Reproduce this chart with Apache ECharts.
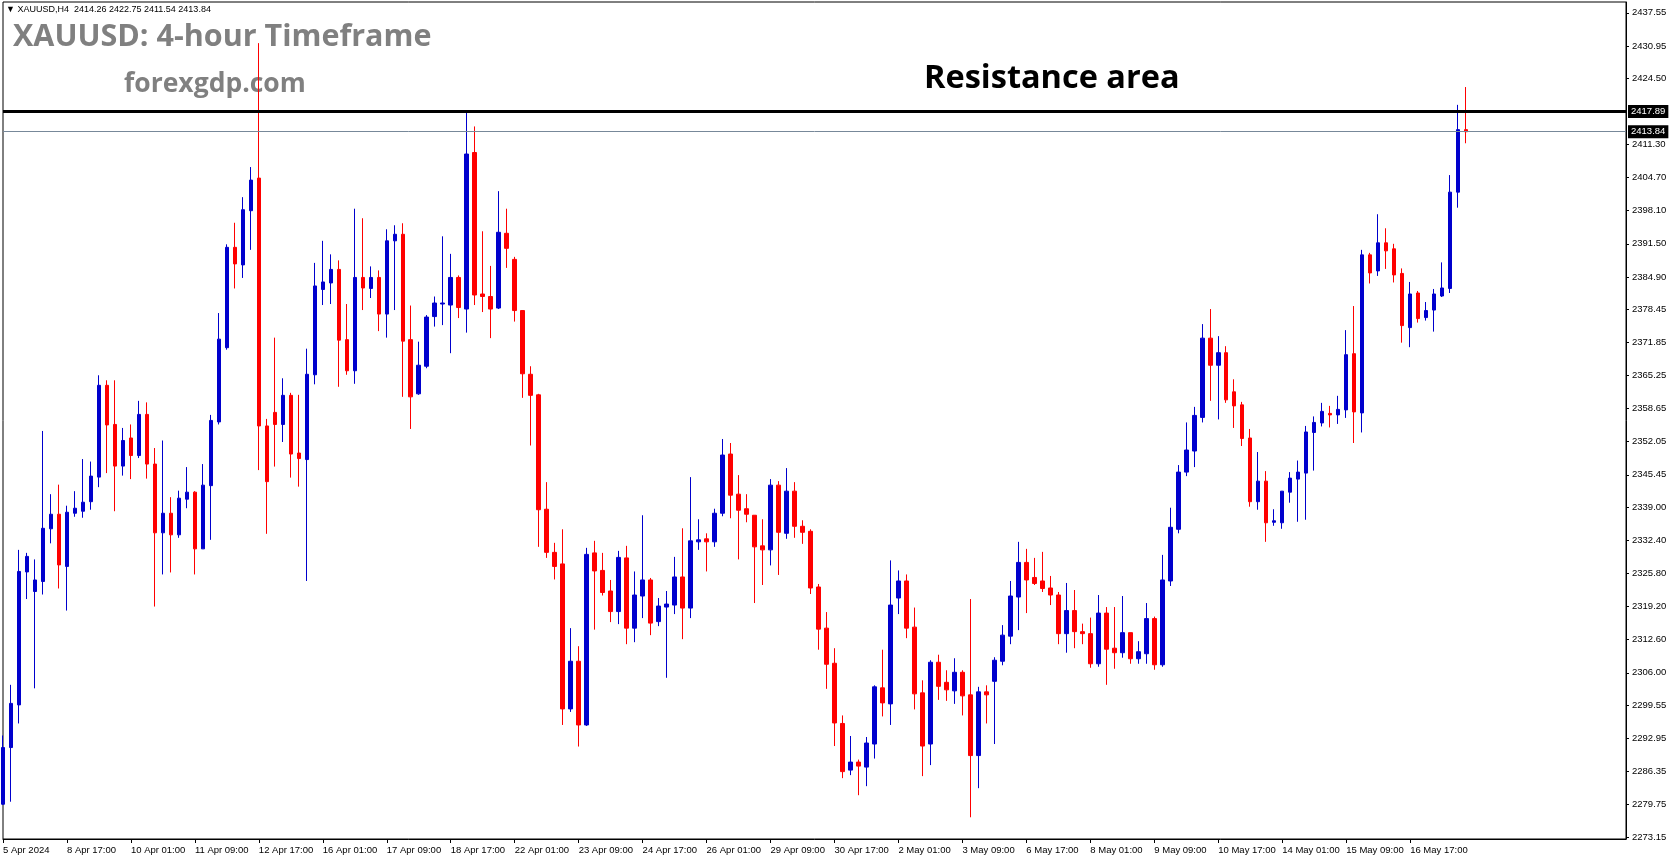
<!DOCTYPE html>
<html>
<head>
<meta charset="utf-8">
<title>XAUUSD H4</title>
<script src="https://cdn.jsdelivr.net/npm/echarts@6/dist/echarts.min.js"></script>
<style>html,body{margin:0;padding:0;background:#fff;}</style>
</head>
<body>
<div id="main" style="width:1673px;height:861px;"></div>
<script>
// trading days on the chart, 5 Apr only has the bars from 09:00
const days = ['5 Apr', '8 Apr', '9 Apr', '10 Apr', '11 Apr', '12 Apr',
  '15 Apr', '16 Apr', '17 Apr', '18 Apr', '19 Apr',
  '22 Apr', '23 Apr', '24 Apr', '25 Apr', '26 Apr',
  '29 Apr', '30 Apr', '1 May', '2 May', '3 May',
  '6 May', '7 May', '8 May', '9 May', '10 May',
  '13 May', '14 May', '15 May', '16 May', '17 May'];
const hours = ['01:00', '05:00', '09:00', '13:00', '17:00', '21:00'];

// H4 bars
const opens = [
  2279.8, 2291.1, 2299.6, 2326.1, 2322.2, 2324.2, 2334.7, 2337.6, 2327.2, 2337.8,
  2338.2, 2340.1, 2345.0, 2363.3, 2355.5, 2347.2, 2352.8, 2349.3, 2357.5, 2347.6,
  2333.9, 2337.8, 2333.5, 2340.6, 2342.0, 2330.7, 2343.3, 2356.0, 2370.8, 2390.8,
  2387.3, 2398.1, 2404.6, 2355.2, 2357.9, 2355.5, 2361.3, 2349.8, 2348.5, 2365.4,
  2382.4, 2383.7, 2386.4, 2372.4, 2366.2, 2384.8, 2382.6, 2384.8, 2377.5, 2392.1,
  2393.4, 2372.4, 2361.6, 2367.1, 2377.0, 2379.5, 2379.3, 2384.8, 2378.5, 2409.7,
  2381.5, 2381.0, 2378.7, 2393.6, 2388.4, 2378.2, 2365.5, 2361.4, 2338.6, 2330.0,
  2327.7, 2298.8, 2308.3, 2295.6, 2329.9, 2326.4, 2322.3, 2318.2, 2328.9, 2314.9,
  2321.3, 2324.5, 2316.2, 2319.1, 2319.5, 2325.1, 2318.9, 2332.1, 2332.7, 2332.1,
  2337.8, 2349.6, 2341.6, 2338.7, 2337.4, 2331.3, 2330.5, 2343.4, 2333.8, 2342.2,
  2335.2, 2334.2, 2323.1, 2314.9, 2307.9, 2295.9, 2286.6, 2288.2, 2287.2, 2291.8,
  2303.0, 2299.8, 2320.9, 2324.3, 2315.1, 2302.0, 2291.8, 2308.1, 2304.1, 2302.4,
  2306.1, 2301.6, 2289.5, 2302.2, 2304.3, 2308.3, 2313.3, 2321.1, 2328.0, 2325.0,
  2324.3, 2322.9, 2321.5, 2313.8, 2318.4, 2314.2, 2313.8, 2307.8, 2317.9, 2310.9,
  2310.0, 2314.0, 2308.8, 2309.8, 2316.8, 2307.6, 2324.3, 2334.6, 2346.0, 2350.2,
  2356.9, 2372.7, 2367.3, 2369.8, 2362.0, 2359.4, 2352.8, 2340.1, 2344.2, 2336.0,
  2335.9, 2342.0, 2344.6, 2345.8, 2353.9, 2355.8, 2357.7, 2357.4, 2358.4, 2369.6,
  2357.8, 2389.3, 2386.1, 2391.7, 2390.5, 2385.6, 2374.8, 2381.7, 2376.8, 2378.3,
  2381.1, 2382.6, 2401.8, 2414.26];
const closes = [
  2291.1, 2299.9, 2326.2, 2329.2, 2324.5, 2334.8, 2337.6, 2327.5, 2338.0, 2338.8,
  2340.0, 2345.2, 2363.3, 2355.4, 2347.2, 2352.3, 2349.3, 2357.5, 2347.6, 2333.9,
  2337.8, 2333.5, 2340.8, 2342.0, 2330.7, 2343.4, 2356.3, 2372.5, 2390.8, 2387.5,
  2398.3, 2404.2, 2355.2, 2344.1, 2355.5, 2361.3, 2349.6, 2348.7, 2365.5, 2383.1,
  2383.9, 2386.4, 2372.3, 2366.2, 2384.8, 2382.7, 2384.8, 2377.5, 2392.1, 2393.4,
  2372.1, 2361.0, 2367.3, 2376.9, 2379.7, 2379.7, 2384.8, 2378.8, 2409.4, 2381.3,
  2381.0, 2378.5, 2393.8, 2390.6, 2378.2, 2365.6, 2361.3, 2338.5, 2330.0, 2327.2,
  2298.8, 2308.3, 2295.6, 2329.6, 2326.3, 2322.0, 2318.2, 2329.0, 2314.9, 2321.5,
  2324.5, 2315.9, 2319.3, 2319.7, 2325.1, 2318.9, 2332.3, 2332.5, 2332.1, 2337.8,
  2349.4, 2341.4, 2338.4, 2337.6, 2331.1, 2330.5, 2343.4, 2334.0, 2342.2, 2335.2,
  2334.0, 2322.9, 2314.7, 2307.7, 2296.0, 2286.3, 2288.2, 2287.4, 2292.0, 2303.2,
  2300.0, 2319.5, 2324.3, 2314.9, 2301.8, 2291.4, 2308.1, 2303.3, 2302.6, 2306.1,
  2301.4, 2289.5, 2302.2, 2301.6, 2308.5, 2313.5, 2321.3, 2328.0, 2324.5, 2323.8,
  2322.8, 2321.5, 2313.8, 2318.4, 2314.2, 2313.8, 2307.8, 2317.9, 2310.7, 2310.0,
  2314.0, 2308.8, 2310.2, 2316.8, 2307.6, 2324.5, 2335.0, 2346.0, 2350.4, 2357.3,
  2372.7, 2367.3, 2369.8, 2360.4, 2359.2, 2352.7, 2340.1, 2344.2, 2335.9, 2336.3,
  2342.2, 2344.8, 2346.0, 2354.0, 2355.9, 2358.1, 2357.4, 2358.5, 2369.4, 2358.0,
  2389.3, 2385.7, 2391.7, 2390.1, 2385.3, 2375.2, 2381.5, 2376.6, 2378.2, 2381.5,
  2382.7, 2401.8, 2414.26, 2413.84];
const lows = [
  2279.7, 2280.3, 2295.9, 2320.7, 2302.9, 2321.6, 2331.8, 2322.8, 2318.4, 2337.1,
  2336.9, 2338.5, 2343.0, 2345.8, 2338.2, 2345.3, 2344.6, 2348.8, 2344.7, 2319.2,
  2325.6, 2326.0, 2332.9, 2338.8, 2325.6, 2330.7, 2332.5, 2355.5, 2370.4, 2382.6,
  2384.7, 2390.3, 2346.4, 2333.7, 2347.1, 2352.0, 2344.9, 2343.1, 2324.3, 2363.5,
  2379.3, 2379.5, 2363.0, 2365.4, 2363.6, 2378.3, 2380.7, 2374.1, 2372.8, 2378.3,
  2361.0, 2354.6, 2361.4, 2366.7, 2375.0, 2375.3, 2369.7, 2376.7, 2373.8, 2379.3,
  2377.9, 2372.7, 2378.5, 2386.7, 2376.0, 2360.8, 2351.3, 2331.1, 2328.9, 2324.6,
  2295.6, 2298.2, 2291.3, 2295.4, 2314.6, 2321.4, 2316.1, 2315.7, 2311.7, 2312.1,
  2316.9, 2313.5, 2315.3, 2305.0, 2317.7, 2312.7, 2316.9, 2330.5, 2326.2, 2331.1,
  2337.2, 2336.8, 2328.6, 2336.0, 2319.9, 2323.5, 2327.4, 2325.5, 2332.7, 2332.9,
  2331.7, 2321.7, 2310.6, 2302.8, 2291.4, 2285.0, 2285.6, 2281.6, 2283.4, 2288.9,
  2297.3, 2295.6, 2317.7, 2312.9, 2298.7, 2285.4, 2287.6, 2300.6, 2300.4, 2299.8,
  2297.5, 2277.2, 2283.0, 2295.9, 2291.8, 2307.5, 2311.7, 2314.5, 2317.9, 2323.5,
  2322.1, 2319.5, 2311.7, 2310.0, 2310.9, 2311.7, 2307.0, 2307.2, 2303.6, 2306.8,
  2309.0, 2307.8, 2307.8, 2307.8, 2306.6, 2307.2, 2323.3, 2333.8, 2345.2, 2347.0,
  2355.9, 2360.2, 2356.5, 2359.8, 2354.8, 2351.2, 2339.1, 2338.5, 2332.1, 2335.3,
  2334.7, 2339.9, 2336.1, 2336.5, 2346.3, 2355.1, 2354.9, 2355.6, 2356.8, 2351.8,
  2353.9, 2383.6, 2385.1, 2386.5, 2383.8, 2371.8, 2370.9, 2375.8, 2376.2, 2374.0,
  2380.9, 2381.7, 2398.7, 2411.54];
const highs = [
  2293.5, 2303.6, 2330.5, 2329.9, 2328.6, 2354.2, 2341.6, 2343.5, 2339.3, 2342.2,
  2348.6, 2348.1, 2365.3, 2364.3, 2364.3, 2354.8, 2355.5, 2360.2, 2359.9, 2350.8,
  2352.3, 2341.0, 2342.3, 2347.0, 2342.2, 2347.6, 2357.4, 2377.7, 2391.4, 2395.7,
  2400.8, 2406.8, 2431.5, 2356.6, 2372.8, 2364.7, 2361.8, 2361.4, 2370.6, 2387.7,
  2392.1, 2389.4, 2388.2, 2379.5, 2398.5, 2396.6, 2387.0, 2386.2, 2394.4, 2395.2,
  2395.6, 2379.2, 2372.0, 2377.3, 2381.0, 2393.0, 2389.5, 2385.2, 2417.9, 2414.9,
  2394.0, 2387.1, 2402.0, 2398.5, 2388.9, 2378.3, 2367.1, 2361.6, 2344.0, 2331.9,
  2334.6, 2314.9, 2311.3, 2330.9, 2332.3, 2329.9, 2324.5, 2330.3, 2331.3, 2326.2,
  2337.4, 2324.9, 2320.9, 2322.3, 2329.1, 2334.8, 2345.0, 2336.6, 2333.8, 2338.7,
  2352.6, 2351.8, 2345.4, 2341.6, 2337.4, 2336.6, 2344.6, 2344.2, 2346.8, 2344.0,
  2336.4, 2334.6, 2323.7, 2318.1, 2310.9, 2297.5, 2293.4, 2288.7, 2293.2, 2303.5,
  2310.6, 2328.4, 2326.4, 2325.6, 2319.0, 2304.5, 2308.5, 2309.6, 2306.5, 2308.9,
  2306.5, 2320.7, 2303.2, 2303.5, 2309.1, 2315.5, 2324.3, 2332.1, 2330.7, 2328.9,
  2330.1, 2325.3, 2322.1, 2323.9, 2322.5, 2315.8, 2317.0, 2321.5, 2319.1, 2319.1,
  2321.3, 2314.0, 2312.3, 2319.9, 2317.2, 2329.5, 2338.9, 2347.4, 2355.9, 2359.0,
  2375.5, 2378.5, 2373.1, 2371.1, 2364.5, 2360.0, 2354.6, 2350.0, 2346.2, 2338.6,
  2342.2, 2346.0, 2348.3, 2355.2, 2357.1, 2359.8, 2359.2, 2361.2, 2374.3, 2379.1,
  2390.3, 2389.7, 2397.4, 2394.6, 2391.5, 2386.6, 2383.9, 2382.1, 2379.9, 2382.5,
  2387.8, 2405.2, 2419.2, 2422.75];

// price scale labels on the right
const priceTicks = ['2273.15', '2279.75', '2286.35', '2292.95', '2299.55', '2306.00',
  '2312.60', '2319.20', '2325.80', '2332.40', '2339.00', '2345.45', '2352.05',
  '2358.65', '2365.25', '2371.85', '2378.45', '2384.90', '2391.50', '2398.10',
  '2404.70', '2411.30', '2424.50', '2430.95', '2437.55'];

const resistance = 2417.89;
const lastPrice = 2413.84;
const totalSlots = 204; // bars plus empty room on the right, like MT4 chart shift

const categories = [];
days.forEach(d => {
  hours.forEach(h => {
    if (d === '5 Apr' && h < '09:00') return;
    categories.push(d + ' ' + h);
  });
});
while (categories.length < totalSlots) categories.push('');

const ohlc = opens.map((o, i) => [o, closes[i], lows[i], highs[i]]);

const axisFont = 'Liberation Sans';
const showTick = (idx, val) => idx % 8 === 0 && val !== '';

const myChart = echarts.init(document.getElementById('main'));
myChart.setOption({
  animation: false,
  backgroundColor: '#fff',
  grid: {
    left: 2, right: 47, top: 2, bottom: 22,
    show: true, borderColor: '#000', borderWidth: 1, backgroundColor: '#fff'
  },
  xAxis: {
    type: 'category',
    data: categories,
    boundaryGap: false,
    axisLine: { show: true, lineStyle: { color: '#000', width: 1 } },
    axisTick: { show: true, interval: showTick, length: 4, lineStyle: { color: '#000' } },
    axisLabel: {
      interval: showTick,
      formatter: (v, i) => (i === 0 ? '5 Apr 2024' : v),
      align: 'left',
      margin: 6,
      fontFamily: axisFont,
      fontSize: 9.5,
      color: '#000'
    },
    splitLine: { show: false }
  },
  yAxis: {
    type: 'value',
    position: 'right',
    min: 2272.87,
    max: 2439.7,
    splitLine: { show: false },
    axisLine: { show: true, lineStyle: { color: '#000', width: 1 } },
    axisTick: { show: true, length: 3, customValues: priceTicks.map(Number), lineStyle: { color: '#000' } },
    axisLabel: {
      customValues: priceTicks.map(Number),
      formatter: v => v.toFixed(2),
      margin: 6,
      fontFamily: axisFont,
      fontSize: 9.5,
      color: '#000'
    }
  },
  series: [{
    type: 'candlestick',
    data: ohlc,
    barWidth: 4,
    itemStyle: {
      color: '#0000cd', color0: '#ff0000',
      borderColor: '#0000cd', borderColor0: '#ff0000',
      borderWidth: 1
    },
    markLine: {
      symbol: 'none',
      silent: true,
      animation: false,
      data: [
        { yAxis: resistance, lineStyle: { color: '#000', width: 3, type: 'solid' } },
        { yAxis: lastPrice, lineStyle: { color: '#778899', width: 1, type: 'solid' } }
      ],
      label: {
        position: 'end',
        distance: 2,
        formatter: p => p.value.toFixed(2),
        backgroundColor: '#000',
        color: '#fff',
        padding: [2, 3, 1, 3],
        fontFamily: axisFont,
        fontSize: 9.5
      }
    }
  }],
  graphic: [
    { type: 'text', left: 6, top: 5,
      style: { text: '▼ XAUUSD,H4  2414.26 2422.75 2411.54 2413.84', font: '9px "Liberation Sans"', fill: '#000' } },
    { type: 'text', left: 13, top: 22,
      style: { text: 'XAUUSD: 4-hour Timeframe', font: 'bold 30.5px "Open Sans"', fill: '#808080' } },
    { type: 'text', left: 124, top: 71,
      style: { text: 'forexgdp.com', font: 'bold 26.5px "Open Sans"', fill: '#808080' } },
    { type: 'text', left: 924, top: 62,
      style: { text: 'Resistance area', font: 'bold 32.5px "Open Sans"', fill: '#000' } }
  ]
});
</script>
</body>
</html>
